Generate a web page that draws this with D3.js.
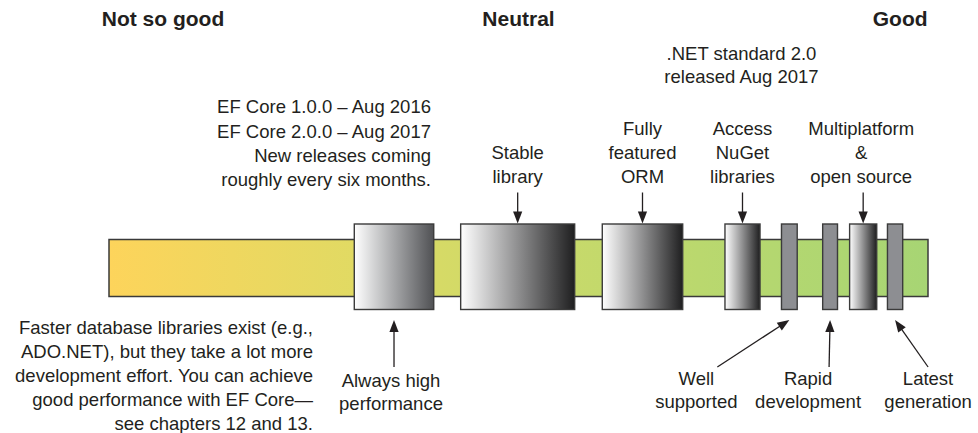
<!DOCTYPE html>
<html><head><meta charset="utf-8">
<script src="https://cdn.jsdelivr.net/npm/d3@7/dist/d3.min.js"></script>
<style>
body{margin:0;background:#fff}
svg{display:block}
text{font-family:"Liberation Sans",Arial,Helvetica,sans-serif;fill:#231f20}
</style>
</head><body>
<svg id="chart" width="978" height="433"></svg>
<script>
// ---------- data ----------
const scaleLabels = ["Not so good", "Neutral", "Good"];
const scaleValues = [6.6, 50, 96.6];            // position along the 0-100 "goodness" axis
const barExtent = [0, 100];

const features = ["Always high performance", "Stable library", "Fully featured ORM",
  "Access NuGet libraries", "Well supported", "Rapid development",
  "Multiplatform & open source", "Latest generation"];
const featureStart = [29.95, 42.94, 60.23, 75.21, 82.11, 87.14, 90.43, 95.05];
const featureEnd   = [39.65, 56.86, 70.05, 79.49, 84.03, 88.95, 93.74, 96.91];
const featureKind  = ["soft", "shaded", "shaded", "shaded", "flat", "flat", "shaded", "flat"];
const featureLines = [["Always high", "performance"], ["Stable", "library"], ["Fully", "featured", "ORM"],
  ["Access", "NuGet", "libraries"], ["Well", "supported"], ["Rapid", "development"],
  ["Multiplatform", "&", "open source"], ["Latest", "generation"]];
const featureSide  = ["below", "above", "above", "above", "below", "below", "above", "below"];

const releaseNote = ["EF Core 1.0.0 \u2013 Aug 2016", "EF Core 2.0.0 \u2013 Aug 2017",
  "New releases coming", "roughly every six months."];
const netNote = [".NET standard 2.0", "released Aug 2017"];
const perfNote = ["Faster database libraries exist (e.g.,", "ADO.NET), but they take a lot more",
  "development effort. You can achieve", "good performance with EF Core\u2014",
  "see chapters 12 and 13."];

// ---------- layout ----------
const svg = d3.select("#chart");
const x = d3.scaleLinear().domain(barExtent).range([109, 928]);
const barTop = 239.5, barBottom = 296.5;
const boxTop = 224, boxBottom = 309.5;
const ink = "#231f20";
const labelOffset = [-3, 0, 0, 0, -93, -22, -2, 33];   // label x shift from box centre (px)

const defs = svg.append("defs");
const barGrad = defs.append("linearGradient").attr("id", "barGrad");
[[0, "#fdd45b"], [0.3, "#e1da63"], [0.5, "#ccda69"], [0.72, "#bad86e"], [1, "#a7d574"]]
  .forEach(([o, c]) => barGrad.append("stop").attr("offset", o).attr("stop-color", c));
const shadeGrad = defs.append("linearGradient").attr("id", "shade");
[[0, "#ffffff"], [0.5, "#8f8f90"], [1, "#1f1f20"]]
  .forEach(([o, c]) => shadeGrad.append("stop").attr("offset", o).attr("stop-color", c));
const softGrad = defs.append("linearGradient").attr("id", "soft");
[[0, "#ffffff"], [0.5, "#a6a7a9"], [1, "#505154"]]
  .forEach(([o, c]) => softGrad.append("stop").attr("offset", o).attr("stop-color", c));

// main bar
svg.append("rect")
  .attr("x", x(barExtent[0])).attr("y", barTop)
  .attr("width", x(barExtent[1]) - x(barExtent[0])).attr("height", barBottom - barTop)
  .attr("fill", "url(#barGrad)").attr("stroke", "#3a3a3a").attr("stroke-width", 1.5);

// feature boxes
const fdata = features.map((f, i) => ({
  name: f, s: featureStart[i], e: featureEnd[i], kind: featureKind[i],
  lines: featureLines[i], side: featureSide[i], off: labelOffset[i]
}));
svg.selectAll("rect.box").data(fdata).join("rect").attr("class", "box")
  .attr("x", d => x(d.s)).attr("y", boxTop)
  .attr("width", d => x(d.e) - x(d.s)).attr("height", boxBottom - boxTop)
  .attr("fill", d => d.kind === "flat" ? "#8d8e92" : d.kind === "soft" ? "url(#soft)" : "url(#shade)")
  .attr("stroke", "#3b3b3b").attr("stroke-width", 1.4);

// arrows
function arrow(x1, y1, x2, y2) {
  const L = 12, W = 4.6;
  const dx = x2 - x1, dy = y2 - y1, len = Math.hypot(dx, dy);
  const ux = dx / len, uy = dy / len;
  const bx = x2 - ux * L, by = y2 - uy * L;
  svg.append("line").attr("x1", x1).attr("y1", y1).attr("x2", bx + ux * 2).attr("y2", by + uy * 2)
    .attr("stroke", ink).attr("stroke-width", 1.3);
  svg.append("path")
    .attr("d", `M${x2},${y2}L${bx - uy * W},${by + ux * W}L${bx + uy * W},${by - ux * W}Z`)
    .attr("fill", ink);
}

const fs = 18.5, lh = 24.2;
fdata.forEach(d => {
  const cx = (x(d.s) + x(d.e)) / 2;
  const lx = cx + d.off;
  if (d.side === "above") {
    arrow(cx, 192.5, cx, boxTop - 0.5);
    const n = d.lines.length;
    const g = svg.append("text").attr("text-anchor", "middle").attr("font-size", fs);
    d.lines.forEach((t, k) => g.append("tspan").attr("x", lx).attr("y", 183.3 - (n - 1 - k) * lh).text(t));
  } else {
    const tailX = Math.abs(d.off) < 5 ? cx : lx + (d.off < 0 ? 21 : 0);
    arrow(tailX, 367, cx, 320);
    const g = svg.append("text").attr("text-anchor", "middle").attr("font-size", fs);
    const base = d.name.startsWith("Always") ? 387.3 : 385;
    d.lines.forEach((t, k) => g.append("tspan").attr("x", lx).attr("y", base + k * 23).text(t));
  }
});

// scale headings
svg.selectAll("text.head").data(scaleLabels).join("text").attr("class", "head")
  .attr("x", (d, i) => x(scaleValues[i])).attr("y", 26)
  .attr("text-anchor", "middle").attr("font-size", 21).attr("font-weight", "bold")
  .text(d => d);

// notes
function note(lines, xx, y0, anchor, step) {
  const g = svg.append("text").attr("text-anchor", anchor).attr("font-size", fs);
  lines.forEach((t, k) => g.append("tspan").attr("x", xx).attr("y", y0 + k * step).text(t));
}
note(releaseNote, 431, 113.3, "end", 24.2);
note(netNote, 741.5, 60, "middle", 23.3);
note(perfNote, 313, 334, "end", 24);
</script>
</body></html>
